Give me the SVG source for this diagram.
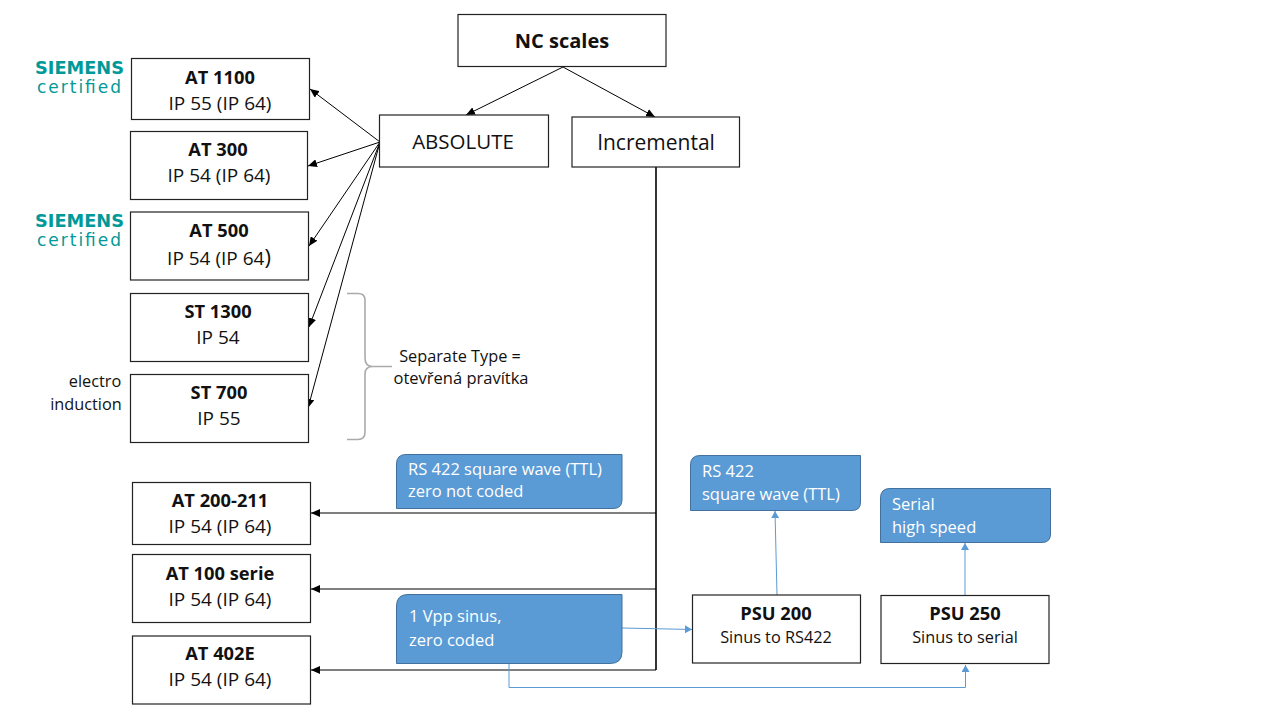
<svg xmlns="http://www.w3.org/2000/svg" width="1280" height="720" viewBox="0 0 1280 720">
<style>
text{font-family:"Open Sans","Noto Sans","Liberation Sans",sans-serif;fill:#111;font-size:19px;text-anchor:middle}
.b{font-weight:700;font-size:18.300px}
.m{font-size:16.300px}
.box{fill:#fff;stroke:#222;stroke-width:1.2}
.blue{fill:#5b9bd5;stroke:#41719c;stroke-width:1}
.w{fill:#fff;text-anchor:start;font-size:16.500px}
.k{fill:none;stroke:#000;stroke-width:1;marker-end:url(#ah)}
.l{fill:none;stroke:#5b9bd5;stroke-width:1;marker-end:url(#bh)}
.s1{font-family:"DejaVu Sans",sans-serif;font-weight:700;font-size:17px;fill:#009999}
.s2{font-family:"DejaVu Sans",sans-serif;font-size:17px;fill:#009999}
</style>
<defs>
<marker id="ah" markerWidth="10" markerHeight="8" refX="9" refY="4" orient="auto" markerUnits="userSpaceOnUse"><path d="M0 0L9 4L0 8Z" fill="#000"/></marker>
<marker id="bh" markerWidth="8" markerHeight="8" refX="7" refY="4" orient="auto" markerUnits="userSpaceOnUse"><path d="M0 0L7 4L0 8Z" fill="#5b9bd5"/></marker>
</defs>
<g id="connectors">
<path class="k" d="M563 67L466 115"/>
<path class="k" d="M563 67L655 117"/>
<path class="k" d="M380 142L310 89"/>
<path class="k" d="M380 142L308 166"/>
<path class="k" d="M380 142L309 246"/>
<path class="k" d="M380 142L309 327"/>
<path class="k" d="M380 142L308 408"/>
<path d="M656 167V670" fill="none" stroke="#000" stroke-width="1.6"/>
<path class="k" d="M656 513H311"/>
<path class="k" d="M656 589H311"/>
<path class="k" d="M656 670H311"/>
<path class="l" d="M622 628L692 629.500"/>
<path class="l" d="M777 595L775 511"/>
<path class="l" d="M965 595V543"/>
<path class="l" d="M509 664V687.500H965.500V665"/>
<path d="M347 293.500H358Q365 293.500 365 300V358Q365 366 372 366.500H392M372 366.500Q365 367 365 374V432Q365 439.500 358 439.500H347" fill="none" stroke="#aaa" stroke-width="1.600"/>
</g>
<g id="nc-scales"><rect class="box" x="458" y="14.500" width="208" height="52"/><text class="b" x="562" y="48" style="font-size:20px">NC scales</text></g>
<g id="absolute"><rect class="box" x="379.500" y="115" width="169" height="52"/><text x="463" y="149" style="font-size:20.500px">ABSOLUTE</text></g>
<g id="incremental"><rect class="box" x="572" y="117" width="167.500" height="50"/><text x="656" y="150" style="font-size:21px">Incremental</text></g>
<g id="at1100"><rect class="box" x="131.500" y="58.500" width="178" height="61"/><text class="b" x="220" y="84">AT 1100</text><text x="220" y="110">IP 55 (IP 64)</text></g>
<g id="at300"><rect class="box" x="130.500" y="131.500" width="177" height="68"/><text class="b" x="218" y="156">AT 300</text><text x="219" y="182">IP 54 (IP 64)</text></g>
<g id="at500"><rect class="box" x="130.500" y="212" width="178" height="68"/><text class="b" x="219" y="237">AT 500</text><text x="219" y="265">IP 54 (IP 64<tspan font-size="22">)</tspan></text></g>
<g id="st1300"><rect class="box" x="130.500" y="293.500" width="178" height="68"/><text class="b" x="218" y="318">ST 1300</text><text x="218" y="344">IP 54</text></g>
<g id="st700"><rect class="box" x="130.500" y="374.500" width="178" height="68"/><text class="b" x="219" y="399">ST 700</text><text x="219" y="425">IP 55</text></g>
<g id="at200"><rect class="box" x="132.500" y="482.500" width="178" height="62"/><text class="b" x="220" y="507">AT 200-211</text><text x="220" y="533">IP 54 (IP 64)</text></g>
<g id="at100"><rect class="box" x="132.500" y="554.500" width="178" height="68"/><text class="b" x="220" y="580">AT 100 serie</text><text x="220" y="606">IP 54 (IP 64)</text></g>
<g id="at402"><rect class="box" x="132.500" y="636" width="178" height="68"/><text class="b" x="220" y="660">AT 402E</text><text x="220" y="686">IP 54 (IP 64)</text></g>
<g id="psu200"><rect class="box" x="692.500" y="595" width="168" height="68"/><text class="b" x="776" y="620">PSU 200</text><text class="m" x="776" y="643">Sinus to RS422</text></g>
<g id="psu250"><rect class="box" x="881" y="595.500" width="168" height="68"/><text class="b" x="965" y="620">PSU 250</text><text class="m" x="965" y="643">Sinus to serial</text></g>
<g id="note-rs422-zero"><path class="blue" d="M406 454.500H622V500Q622 508.500 613 508.500H396.500V464Q396.500 454.500 406 454.500Z"/><text class="w" x="408" y="475">RS 422 square wave (TTL)</text><text class="w" x="408" y="497">zero not coded</text></g>
<g id="note-1vpp"><path class="blue" d="M408 594.500H622V652Q622 663.500 610 663.500H396.500V606Q396.500 594.500 408 594.500Z"/><text class="w" x="409" y="622">1 Vpp sinus,</text><text class="w" x="409" y="646">zero coded</text></g>
<g id="note-rs422"><path class="blue" d="M700 455.500H860.500V502Q860.500 510.500 852 510.500H690.500V465Q690.500 455.500 700 455.500Z"/><text class="w" x="702" y="477">RS 422</text><text class="w" x="702" y="500">square wave (TTL)</text></g>
<g id="note-serial"><path class="blue" d="M890 488.500H1050.500V534Q1050.500 542.500 1042 542.500H880.500V498Q880.500 488.500 890 488.500Z"/><text class="w" x="892" y="510">Serial</text><text class="w" x="892" y="533">high speed</text></g>
<g id="logo1"><text class="s1" x="79.500" y="74" textLength="89" lengthAdjust="spacingAndGlyphs">SIEMENS</text><text class="s2" x="79" y="93" textLength="84" lengthAdjust="spacing">certified</text></g>
<g id="logo2"><text class="s1" x="79.500" y="227" textLength="89" lengthAdjust="spacingAndGlyphs">SIEMENS</text><text class="s2" x="79" y="246" textLength="84" lengthAdjust="spacing">certified</text></g>
<g id="electro"><text class="m" x="95" y="387">electro</text><text class="m" x="86" y="410">induction</text></g>
<g id="separate"><text class="m" x="460" y="362">Separate Type =</text><text class="m" x="461" y="384" style="font-size:16.500px">otevřená pravítka</text></g>
</svg>
